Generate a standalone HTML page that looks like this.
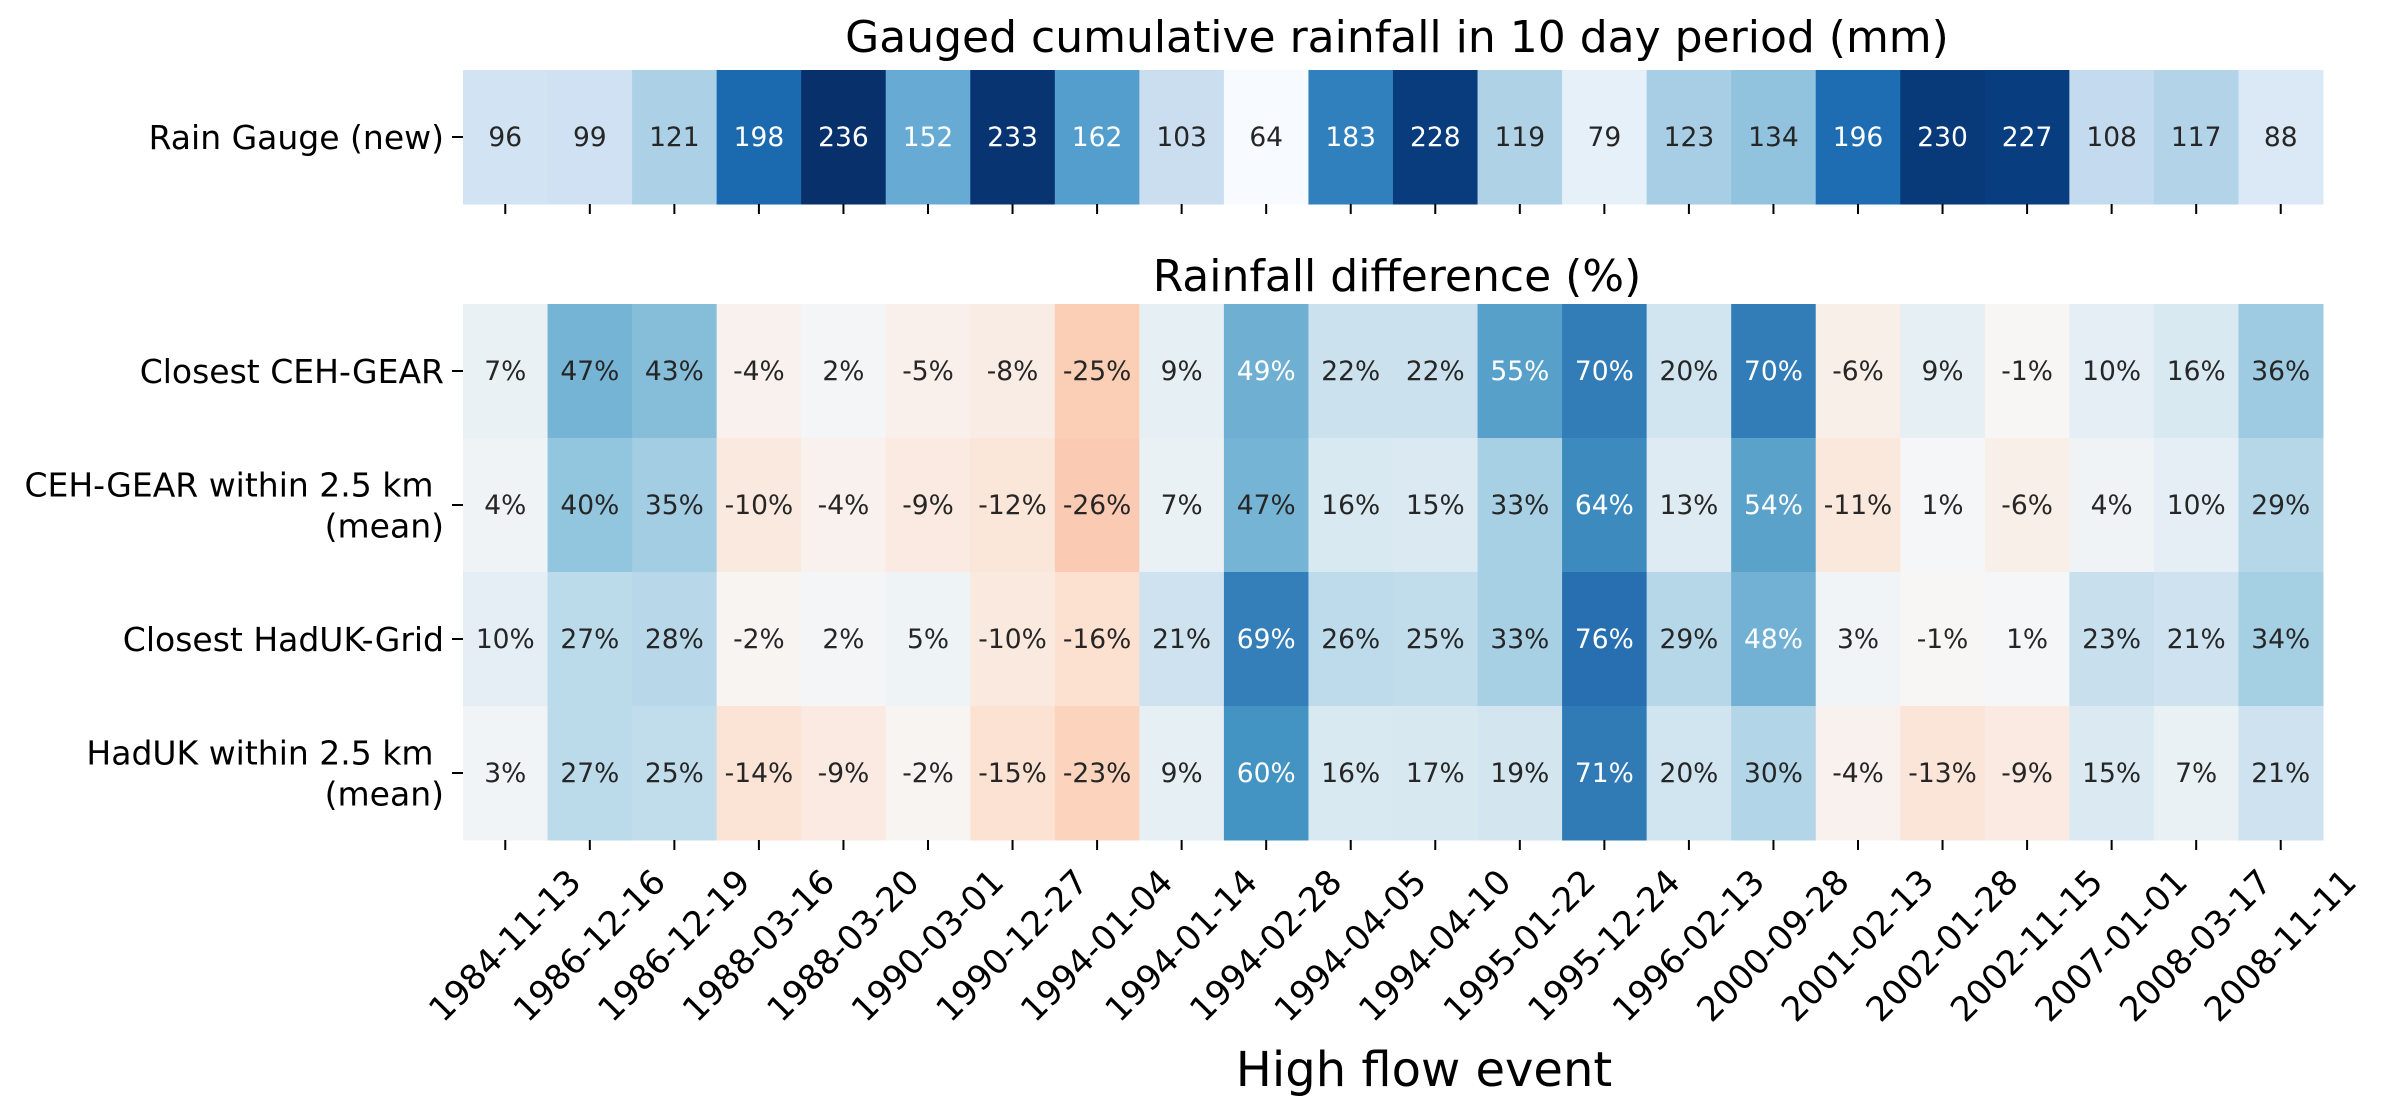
<!DOCTYPE html>
<html><head><meta charset="utf-8"><style>
html,body{margin:0;padding:0;background:#fff;}
svg{display:block;font-family:"DejaVu Sans","Liberation Sans",sans-serif;}
text{white-space:pre;}
</style></head><body>
<svg id="chart" width="2387" height="1117" viewBox="0 0 2387 1117" xmlns="http://www.w3.org/2000/svg">
<text x="1397" y="52" font-size="44" text-anchor="middle" fill="#000">Gauged cumulative rainfall in 10 day period (mm)</text>
<text x="1397" y="291" font-size="44" text-anchor="middle" fill="#000">Rainfall difference (%)</text>
<text x="1424" y="1086" font-size="48" text-anchor="middle" fill="#000">High flow event</text>
<g id="topG"></g><g id="botG"></g><g id="axG"></g>
</svg>
<script>
const events = ["1984-11-13","1986-12-16","1986-12-19","1988-03-16","1988-03-20","1990-03-01","1990-12-27","1994-01-04","1994-01-14","1994-02-28","1994-04-05","1994-04-10","1995-01-22","1995-12-24","1996-02-13","2000-09-28","2001-02-13","2002-01-28","2002-11-15","2007-01-01","2008-03-17","2008-11-11"];
const gaugeRain = [96,99,121,198,236,152,233,162,103,64,183,228,119,79,123,134,196,230,227,108,117,88];
const diffRows = [["Closest CEH-GEAR"],["CEH-GEAR within 2.5 km ","(mean)"],["Closest HadUK-Grid"],["HadUK within 2.5 km ","(mean)"]];
const closestCeh = [7,47,43,-4,2,-5,-8,-25,9,49,22,22,55,70,20,70,-6,9,-1,10,16,36];
const cehWithin = [4,40,35,-10,-4,-9,-12,-26,7,47,16,15,33,64,13,54,-11,1,-6,4,10,29];
const closestHad = [10,27,28,-2,2,5,-10,-16,21,69,26,25,33,76,29,48,3,-1,1,23,21,34];
const hadWithin = [3,27,25,-14,-9,-2,-15,-23,9,60,16,17,19,71,20,30,-4,-13,-9,15,7,21];
const diffValues = [closestCeh, cehWithin, closestHad, hadWithin];

const NS="http://www.w3.org/2000/svg";
const X0=463, X1=2323, TOPY=70, BOTY=304, ROWH=134;
const cw=(X1-X0)/events.length;
function xPos(i){return X0+i*cw;}
function hex(h){return [parseInt(h.slice(1,3),16),parseInt(h.slice(3,5),16),parseInt(h.slice(5,7),16)];}
function interp(stops,t){t=Math.max(0,Math.min(1,t));const n=stops.length-1;const k=Math.min(n-1,Math.floor(t*n));const f=t*n-k;const a=hex(stops[k]),b=hex(stops[k+1]);return a.map((v,j)=>Math.round(v+(b[j]-v)*f));}
const BLUES=["#f7fbff","#deebf7","#c6dbef","#9ecae1","#6baed6","#4292c6","#2171b5","#08519c","#08306b"];
const RDBU=["#67001f","#b2182b","#d6604d","#f4a582","#fddbc7","#f7f7f7","#d1e5f0","#92c5de","#4393c3","#2166ac","#053061"];
function lum(c){const l=c.map(v=>{v/=255;return v<=0.03928?v/12.92:Math.pow((v+0.055)/1.055,2.4);});return 0.2126*l[0]+0.7152*l[1]+0.0722*l[2];}
function mk(tag,attrs,parent){const e=document.createElementNS(NS,tag);for(const k in attrs)e.setAttribute(k,attrs[k]);parent.appendChild(e);return e;}
const topG=document.getElementById('topG'), botG=document.getElementById('botG'), axG=document.getElementById('axG');
const gmin=Math.min(...gaugeRain), gmax=Math.max(...gaugeRain);
function cell(parent,i,y,rgb,label,name){
  const r=mk('rect',{x:xPos(i),y:y,width:cw+0.5,height:ROWH+0.5,fill:`rgb(${rgb.join(',')})`},parent);
  
  
  const t=mk('text',{x:xPos(i)+cw/2,y:y+ROWH/2+9,'font-size':26.5,'text-anchor':'middle',fill:lum(rgb)>0.408?'#262626':'#ffffff'},parent);
  
  
  t.textContent=label;
}
gaugeRain.forEach((v,i)=>cell(topG,i,TOPY,interp(BLUES,(v-gmin)/(gmax-gmin)),String(v),'gauge-cell'));
diffValues.forEach((row,r)=>row.forEach((v,i)=>cell(botG,i,BOTY+r*ROWH,interp(RDBU,(v+100)/200),v+'%','diff-cell')));
function ylabel(lines,cy,name){
  mk('line',{x1:452,x2:463,y1:cy,y2:cy,stroke:'#000','stroke-width':2},axG);
  const n=lines.length;
  lines.forEach((s,k)=>{
    const t=mk('text',{x:444,y:cy+12+(k-(n-1)/2)*41,'font-size':33,'text-anchor':'end',fill:'#000'},axG);
    
    
    t.textContent=s;
  });
}
ylabel(["Rain Gauge (new)"],TOPY+ROWH/2,'gauge-row-label');
diffRows.forEach((lines,r)=>ylabel(lines,BOTY+r*ROWH+ROWH/2,'diff-row-label'));
events.forEach((d,i)=>{
  const cx=xPos(i)+cw/2;
  mk('line',{x1:cx,x2:cx,y1:TOPY+ROWH,y2:TOPY+ROWH+10,stroke:'#000','stroke-width':2},axG);
  mk('line',{x1:cx,x2:cx,y1:BOTY+4*ROWH,y2:BOTY+4*ROWH+10,stroke:'#000','stroke-width':2},axG);
  const cy=946;
  const t=mk('text',{x:cx,y:cy,'font-size':34,'text-anchor':'middle','dominant-baseline':'central',transform:`rotate(-45 ${cx} ${cy})`,fill:'#000'},axG);
  
  
  t.textContent=d;
});
</script>
</body></html>
